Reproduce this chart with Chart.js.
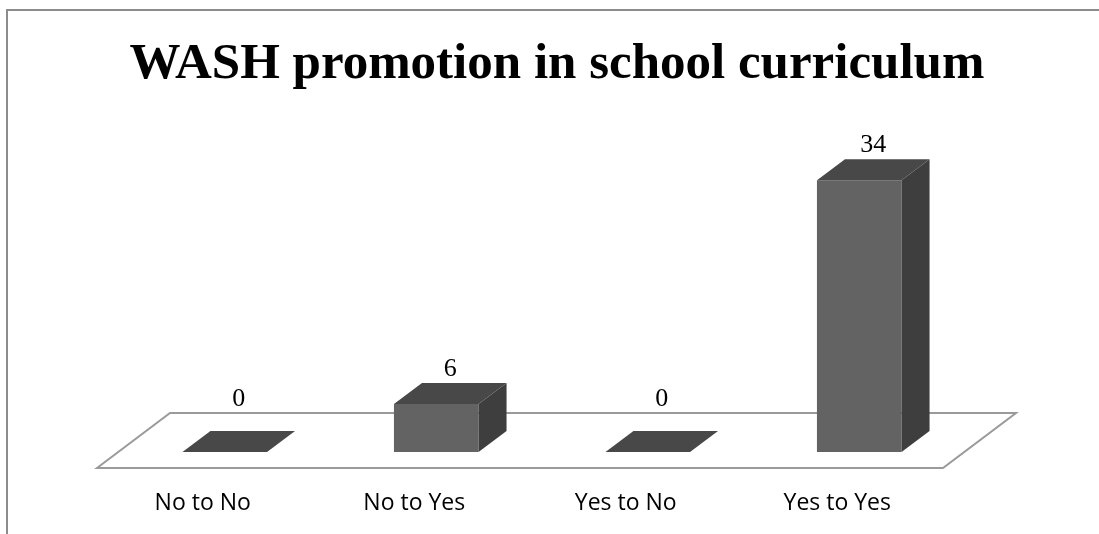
<!DOCTYPE html>
<html lang="en">
<head>
    <meta charset="UTF-8">
    <title>WASH promotion in school curriculum</title>
    <script src="https://cdn.jsdelivr.net/npm/chart.js@4.4.1/dist/chart.umd.min.js"></script>
    <style>
        body {
            margin: 0;
            padding: 0;
            background-color: #fff;
            overflow: hidden;
        }
        .frame {
            position: absolute;
            left: 6px;
            top: 9px;
            width: 1200px;
            height: 700px;
            border-left: 2px solid #8c8c8c;
            border-top: 2px solid #8c8c8c;
        }
        .chart-container {
            position: absolute;
            left: 0;
            top: 0;
            width: 1099px;
            height: 534px;
        }
    </style>
</head>
<body>
    <div class="frame"></div>
    <div class="chart-container">
        <canvas id="washChart"></canvas>
    </div>

    <script>
        // data
        const categories = ['No to No', 'No to Yes', 'Yes to No', 'Yes to Yes'];
        const counts = [0, 6, 0, 34];
        const yMax = 40;

        // 3d look
        const BAR_DX = 28, BAR_DY = 21;
        const FLOOR_FRONT = { dx: -22, dy: 16 };
        const FLOOR_BACK = { dx: 51, dy: -39 };
        const FRONT_COLOR = '#636363';
        const TOP_COLOR = '#484848';
        const SIDE_COLOR = '#3e3e3e';

        function poly(ctx, pts, fill, stroke) {
            ctx.beginPath();
            ctx.moveTo(pts[0][0], pts[0][1]);
            for (let i = 1; i < pts.length; i++) ctx.lineTo(pts[i][0], pts[i][1]);
            ctx.closePath();
            if (fill) { ctx.fillStyle = fill; ctx.fill(); }
            if (stroke) { ctx.strokeStyle = stroke; ctx.lineWidth = 2; ctx.stroke(); }
        }

        const box3d = {
            id: 'box3d',
            beforeDatasetsDraw(chart) {
                const ctx = chart.ctx;
                const area = chart.chartArea;
                const base = chart.scales.y.getPixelForValue(0);
                ctx.save();
                poly(ctx, [
                    [area.left + FLOOR_FRONT.dx, base + FLOOR_FRONT.dy],
                    [area.left + FLOOR_BACK.dx, base + FLOOR_BACK.dy],
                    [area.right + FLOOR_BACK.dx, base + FLOOR_BACK.dy],
                    [area.right + FLOOR_FRONT.dx, base + FLOOR_FRONT.dy]
                ], '#ffffff', '#9a9a9a');
                ctx.restore();
            },
            afterDatasetsDraw(chart) {
                const ctx = chart.ctx;
                const xScale = chart.scales.x;
                const base = chart.scales.y.getPixelForValue(0);
                const meta = chart.getDatasetMeta(0);
                ctx.save();
                meta.data.forEach((bar, i) => {
                    const p = bar.getProps(['x', 'y', 'base', 'width'], true);
                    const l = p.x - p.width / 2, r = p.x + p.width / 2;
                    // right side
                    if (p.base - p.y > 0.5) {
                        poly(ctx, [[r, p.y], [r + BAR_DX, p.y - BAR_DY],
                                   [r + BAR_DX, p.base - BAR_DY], [r, p.base]], SIDE_COLOR);
                    }
                    // top
                    poly(ctx, [[l, p.y], [l + BAR_DX, p.y - BAR_DY],
                               [r + BAR_DX, p.y - BAR_DY], [r, p.y]], TOP_COLOR);

                    // value label
                    const labelY = Math.min(p.y - BAR_DY, base + FLOOR_BACK.dy) - 7;
                    ctx.fillStyle = '#000';
                    ctx.font = '26px "Liberation Serif", serif';
                    ctx.textAlign = 'center';
                    ctx.textBaseline = 'alphabetic';
                    ctx.fillText(String(counts[i]), p.x + BAR_DX / 2, labelY);
                });

                // category labels sit under the front edge of the floor
                ctx.font = '23px "Open Sans", sans-serif';
                ctx.textBaseline = 'middle';
                ctx.fillStyle = '#000';
                categories.forEach((c, i) => {
                    ctx.fillText(c, xScale.getPixelForValue(i) + FLOOR_FRONT.dx, 503);
                });
                ctx.restore();
            }
        };

        new Chart(document.getElementById('washChart'), {
            type: 'bar',
            data: {
                labels: categories,
                datasets: [{
                    data: counts,
                    backgroundColor: FRONT_COLOR,
                    borderWidth: 0,
                    categoryPercentage: 1.0,
                    barPercentage: 0.4
                }]
            },
            options: {
                responsive: true,
                maintainAspectRatio: false,
                animation: false,
                layout: {
                    padding: { left: 119, right: 104, top: 0, bottom: 82 }
                },
                scales: {
                    x: { display: false },
                    y: {
                        position: 'right',
                        min: 0,
                        max: yMax,
                        grid: { display: false },
                        border: { display: false },
                        ticks: { display: false },
                        afterFit: function(scale) { scale.width = 30; }
                    }
                },
                plugins: {
                    legend: { display: false },
                    tooltip: { enabled: false },
                    title: {
                        display: true,
                        text: 'WASH promotion in school curriculum',
                        color: '#000',
                        font: { family: '"Liberation Serif", serif', size: 51, weight: 'bold' },
                        padding: { top: 34, bottom: 37 }
                    }
                }
            },
            plugins: [box3d]
        });
    </script>
</body>
</html>
